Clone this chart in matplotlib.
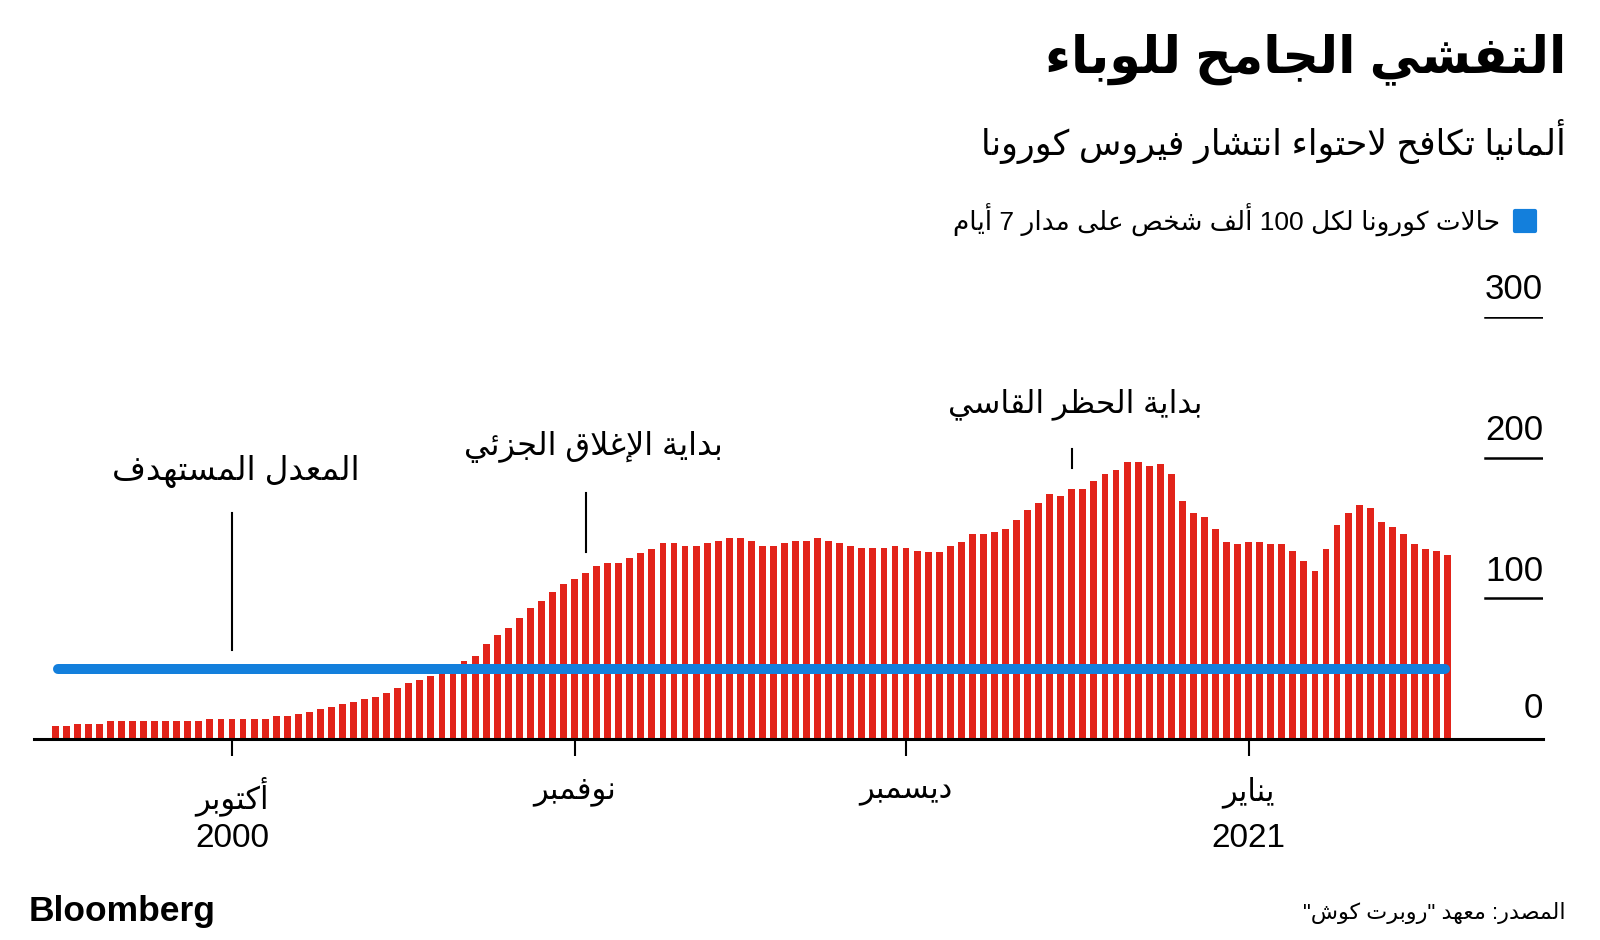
import re
import matplotlib
matplotlib.use('Agg')
import matplotlib.pyplot as plt
import matplotlib.dates as mdates
import pandas as pd
from matplotlib.markers import MarkerStyle
from matplotlib.lines import Line2D

# ---- data ----
start_date = '2020-09-15'
cases = [9, 9, 11, 11, 11, 12.5, 12.5, 12.5, 12.5, 12.5, 12.5, 12.5, 12.5, 12.5,
         14, 14, 14, 14, 14, 14, 16.4, 16.4, 17.5, 19.2, 21.1, 23, 24.6, 26.5,
         28.4, 29.6, 32.9, 36.5, 40, 41.9, 45, 48, 51, 55.5, 59, 67.3, 73.9,
         79.1, 86.3, 92.9, 98.1, 104.7, 110, 113.5, 118.2, 123.2, 124.9, 124.9,
         128.7, 132, 135.3, 139.1, 139.1, 137.4, 137.4, 139.1, 140.8, 142.7,
         142.7, 140.8, 137.4, 137.4, 139.1, 140.8, 140.8, 142.7, 140.8, 139.1,
         137.4, 135.8, 135.8, 135.8, 137.4, 135.5, 133.5, 133.2, 133.2, 137,
         140.3, 145.7, 145.7, 147.4, 149, 155.9, 162.6, 167.8, 174.4, 173, 178,
         178, 183.4, 188.2, 191.5, 196.7, 196.7, 193.8, 195.3, 188.2, 169.2,
         160.9, 157.6, 149, 140.3, 138.6, 140.3, 140.3, 138.6, 138.6, 133.4,
         126.3, 119.7, 134.8, 152.1, 160.7, 166.1, 164.2, 154, 150.7, 145.5,
         138.6, 135.1, 133.4, 130.8]
target_rate = 50
month_ticks = ['2020-10-01', '2020-11-01', '2020-12-01', '2021-01-01']
month_labels = ['أكتوبر', 'نوفمبر', 'ديسمبر', 'يناير']
year_labels = ['2000', '', '', '2021']
y_ticks = [0, 100, 200, 300]
event_dates = ['2020-10-01', '2020-11-02', '2020-12-16']
event_labels = ['المعدل المستهدف', 'بداية الإغلاق الجزئي', 'بداية الحظر القاسي']

title = 'التفشي الجامح للوباء'
subtitle = 'ألمانيا تكافح لاحتواء انتشار فيروس كورونا'
legend_label = 'حالات كورونا لكل 100 ألف شخص على مدار 7 أيام'
source = 'المصدر: معهد "روبرت كوش"'

# ---- minimal arabic shaping + rtl ordering (matplotlib does no shaping) ----
FORMS = {
    'ء': (0xFE80, 1), 'آ': (0xFE81, 2), 'أ': (0xFE83, 2), 'ؤ': (0xFE85, 2),
    'إ': (0xFE87, 2), 'ئ': (0xFE89, 4), 'ا': (0xFE8D, 2), 'ب': (0xFE8F, 4),
    'ة': (0xFE93, 2), 'ت': (0xFE95, 4), 'ث': (0xFE99, 4), 'ج': (0xFE9D, 4),
    'ح': (0xFEA1, 4), 'خ': (0xFEA5, 4), 'د': (0xFEA9, 2), 'ذ': (0xFEAB, 2),
    'ر': (0xFEAD, 2), 'ز': (0xFEAF, 2), 'س': (0xFEB1, 4), 'ش': (0xFEB5, 4),
    'ص': (0xFEB9, 4), 'ض': (0xFEBD, 4), 'ط': (0xFEC1, 4), 'ظ': (0xFEC5, 4),
    'ع': (0xFEC9, 4), 'غ': (0xFECD, 4), 'ف': (0xFED1, 4), 'ق': (0xFED5, 4),
    'ك': (0xFED9, 4), 'ل': (0xFEDD, 4), 'م': (0xFEE1, 4), 'ن': (0xFEE5, 4),
    'ه': (0xFEE9, 4), 'و': (0xFEED, 2), 'ى': (0xFEEF, 2), 'ي': (0xFEF1, 4),
}
LAM_ALEF = {'آ': 0xFEF5, 'أ': 0xFEF7, 'إ': 0xFEF9, 'ا': 0xFEFB}


def joins(c):
    return c == 'LA' or (c in FORMS and FORMS[c][1] > 1)


def shape(text):
    chars = []
    i = 0
    while i < len(text):
        if text[i] == 'ل' and i + 1 < len(text) and text[i + 1] in LAM_ALEF:
            chars.append(('LA', text[i + 1]))
            i += 2
        else:
            chars.append((text[i], None))
            i += 1
    out = []
    for k, (c, alef) in enumerate(chars):
        prev = chars[k - 1][0] if k > 0 else None
        nxt = chars[k + 1][0] if k + 1 < len(chars) else None
        jp = prev in FORMS and FORMS[prev][1] == 4 and joins(c)
        if c == 'LA':
            out.append(chr(LAM_ALEF[alef] + (1 if jp else 0)))
            continue
        if c not in FORMS:
            out.append(c)
            continue
        base, n = FORMS[c]
        jn = n == 4 and joins(nxt)
        if n == 1:
            form = 0
        elif jp and jn:
            form = 3
        elif jp:
            form = 1
        elif jn:
            form = 2
        else:
            form = 0
        out.append(chr(base + form))
    return ''.join(out)


def ar(text):
    parts = re.findall(r'[0-9A-Za-z]+|[^0-9A-Za-z]+', shape(text))
    return ''.join(p if p[0].isascii() and p[0].isalnum() else p[::-1]
                   for p in reversed(parts))


plt.rcParams['font.family'] = ['Liberation Sans', 'DejaVu Sans']

RED = '#e2231a'
BLUE = '#137fdc'

x = mdates.date2num(pd.date_range(start_date, periods=len(cases)))
tick_x = mdates.date2num(pd.to_datetime(month_ticks))
event_x = mdates.date2num(pd.to_datetime(event_dates))

fig = plt.figure(figsize=(16, 9.4), dpi=100)
ax = fig.add_axes([34 / 1600, 1 - 739 / 940, 1509 / 1600, 422 / 940])

ax.bar(x, cases, width=0.62, color=RED, zorder=2)
ax.plot([x[0] + 0.25, x[-1] - 0.25], [target_rate, target_rate], color=BLUE,
        lw=7.2, solid_capstyle='round', zorder=3)

ax.set_xlim(x[0] - 1.92, x[0] + 134.64)
ax.set_ylim(0, 300)

for s in ['top', 'left', 'right']:
    ax.spines[s].set_visible(False)
ax.spines['bottom'].set_linewidth(2.2)
ax.spines['bottom'].set_zorder(4)
ax.set_yticks([])
ax.set_xticks(tick_x)
ax.set_xticklabels([ar(l) for l in month_labels], fontsize=22)
ax.tick_params(axis='x', length=12, width=1.5, pad=15, color='black')
for tx, yl in zip(tick_x, year_labels):
    if yl:
        ax.annotate(yl, xy=(tx, 0), xycoords=('data', 'axes fraction'),
                    xytext=(0, -71.5), textcoords='offset points',
                    ha='center', va='center', fontsize=24)

# right-hand value scale: label above a short rule
for v in y_ticks:
    if v > 0:
        ax.axhline(v, xmin=0.9616, xmax=1.0, color='black', lw=1.8)
    ax.annotate(str(v), xy=(1.0, v), xycoords=('axes fraction', 'data'),
                xytext=(0, 19.5 if v else 22), textcoords='offset points',
                ha='right', va='center', fontsize=25)

# event annotations
line_spans = [(63, 161), (133, 175), (193, 206)]
text_y = [190, 207.5, 238]
text_dx = [0.3, 0.7, 0.3]
text_size = [23.5, 23, 22.5]
for ex, lab, (y0, y1), ty, dx, fs in zip(event_x, event_labels, line_spans,
                                        text_y, text_dx, text_size):
    ax.plot([ex, ex], [y0, y1], color='black', lw=1.5, zorder=3)
    ax.text(ex + dx, ty, ar(lab), ha='center', va='center', fontsize=fs)

# titles
fig.text(1566 / 1600, 1 - 59 / 940, ar(title), ha='right', va='center',
         fontsize=36.5, fontweight='bold')
fig.text(1566 / 1600, 1 - 141 / 940, ar(subtitle), ha='right', va='center',
         fontsize=25)

handle = Line2D([], [], ls='none', color=BLUE,
                marker=MarkerStyle('s', joinstyle='round'), markersize=15,
                markeredgewidth=3, markeredgecolor=BLUE)
fig.legend(handles=[handle], labels=[ar(legend_label)], loc='center right',
           bbox_to_anchor=(1538 / 1600, 1 - 220 / 940), frameon=False,
           markerfirst=False, fontsize=19, handlelength=1.0, handletextpad=0.45,
           borderpad=0, borderaxespad=0)

fig.text(29 / 1600, 1 - 912 / 940, 'Bloomberg', ha='left', va='center',
         fontsize=25.5, fontweight='bold')
fig.text(1566 / 1600, 1 - 913 / 940, ar(source), ha='right', va='center',
         fontsize=16)

fig.savefig('out.png', dpi=100)
